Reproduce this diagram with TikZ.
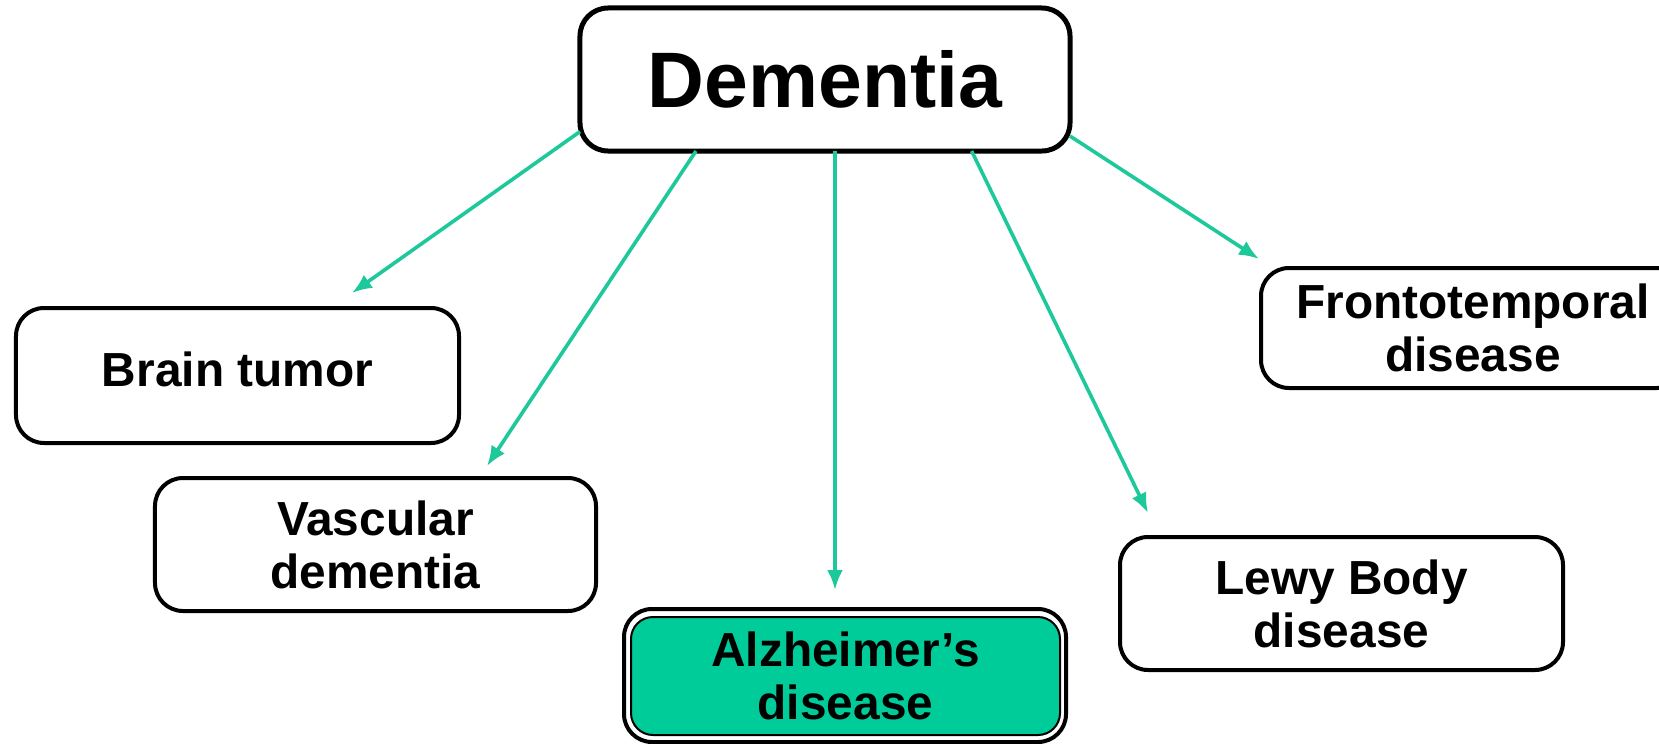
\documentclass[tikz,border=0pt]{standalone}
\usepackage{fontspec}
\setmainfont{Liberation Sans}
\usetikzlibrary{arrows.meta}
\definecolor{arrowgreen}{HTML}{1DC99A}
\definecolor{boxgreen}{HTML}{00CC99}
\tikzset{
  box/.style={draw, line width=2bp, rounded corners=14bp, fill=white, inner sep=0pt, outer sep=0pt, align=center,
    font=\bfseries\fontsize{24}{26.5}\selectfont},
  link/.style={draw=arrowgreen, line width=1.8bp, -{Latex[length=10bp,width=8bp]}}
}
\begin{document}
\begin{tikzpicture}[x=0.5bp,y=-0.5bp]
\useasboundingbox (0,0) rectangle (1659,744);
\clip (0,0) rectangle (1659,744);
% nodes
\node[box, line width=2.5bp, minimum width=245bp, minimum height=71.5bp, font=\bfseries\fontsize{39.5}{44}\selectfont] (dem) at (825,79.5) {Dementia};
\node[box, minimum width=221.5bp, minimum height=67.5bp, text depth=6bp] (bt) at (237.5,375.5) {Brain tumor};
\node[box, minimum width=220.5bp, minimum height=66.5bp] (vd) at (375.5,544.5) {Vascular\\dementia};
\node[box, minimum width=221bp, minimum height=66.5bp] (alzo) at (845,675.5) {};
\node[box, line width=1bp, fill=boxgreen, rounded corners=11bp, minimum width=214.5bp, minimum height=59bp] (alz) at (845.5,676) {Alzheimer’s\\disease};
\node[box, minimum width=212bp, minimum height=60bp] (ft) at (1473,328) {Frontotemporal\\disease};
\node[box, minimum width=221.5bp, minimum height=66.5bp] (lb) at (1341.5,603.5) {Lewy Body\\disease};
% arrow tips
\coordinate (t1) at (352,293);
\coordinate (t2) at (487,466);
\coordinate (t3) at (835,590);
\coordinate (t4) at (1148,513);
\coordinate (t5) at (1259,259);
% connectors
\draw[link] (dem.192.5) -- (t1);
\draw[link] (dem.209.4) -- (t2);
\draw[link] (dem.south -| t3) -- (t3);
\draw[link] (dem.334.4) -- (t4);
\draw[link] (dem.347.3) -- (t5);
\end{tikzpicture}
\end{document}
